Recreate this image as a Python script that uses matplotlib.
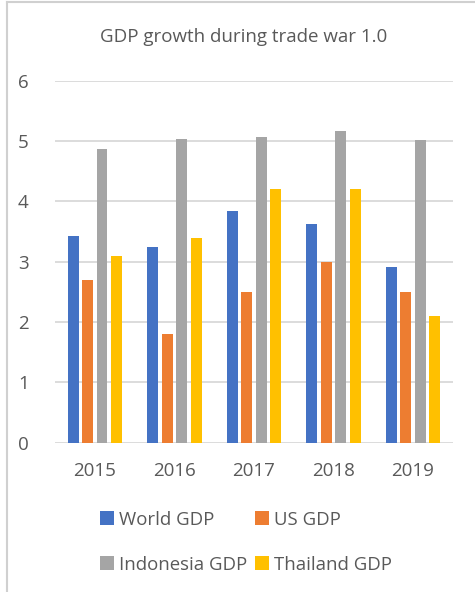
import numpy as np
import matplotlib.pyplot as plt
from matplotlib.lines import Line2D

plt.rcParams['font.family'] = ['Open Sans', 'DejaVu Sans']

# GDP growth (%) by year
years = ['2015', '2016', '2017', '2018', '2019']
world_gdp = [3.43, 3.25, 3.84, 3.63, 2.91]
us_gdp = [2.7, 1.8, 2.5, 3.0, 2.5]
indonesia_gdp = [4.87, 5.03, 5.06, 5.17, 5.02]
thailand_gdp = [3.1, 3.4, 4.2, 4.2, 2.1]

series = [
    ('World GDP', world_gdp, '#4472C4'),
    ('US GDP', us_gdp, '#ED7D31'),
    ('Indonesia GDP', indonesia_gdp, '#A5A5A5'),
    ('Thailand GDP', thailand_gdp, '#FFC000'),
]
text_color = '#595959'

fig = plt.figure(figsize=(4.75, 5.92), dpi=100)
ax = fig.add_axes([0.1158, 0.2522, 0.8372, 0.6115])

x = np.arange(len(years))
step = 0.182
width = 0.138
bars = []
for i, (name, vals, color) in enumerate(series):
    bars.append(ax.bar(x + (i - 1.5) * step, vals, width, color=color,
                       label=name, zorder=3))

ax.set_xlim(-0.5, len(years) - 0.5)
ax.set_ylim(0, 6)
ax.set_yticks(range(0, 7))
ax.set_xticks(x)
ax.set_xticklabels(years)
ax.grid(axis='y', color='#d9d9d9', linewidth=1.3, zorder=0)
for s in ax.spines.values():
    s.set_visible(False)
ax.tick_params(length=0, labelsize=13.5, colors=text_color)
ax.tick_params(axis='y', pad=19)
ax.tick_params(axis='x', pad=14)

fig.text(0.512, 0.937, 'GDP growth during trade war 1.0', ha='center', va='center',
         fontsize=13.5, color=text_color)

# legend fills row by row: World, US / Indonesia, Thailand
order = [0, 2, 1, 3]
fig.legend([bars[i] for i in order], [series[i][0] for i in order],
           loc='center', bbox_to_anchor=(0.518, 0.084), ncol=2, frameon=False,
           fontsize=13.4, labelcolor=text_color, handlelength=0.75, handleheight=0.75,
           handletextpad=0.3, columnspacing=0.4, labelspacing=1.45)

# chart frame edges
fig.add_artist(Line2D([0.015, 0.015], [0, 0.996], color='#d0d0d0', linewidth=1.5))
fig.add_artist(Line2D([0.015, 1], [0.996, 0.996], color='#d0d0d0', linewidth=1.5))

fig.savefig('out.png', dpi=100)
